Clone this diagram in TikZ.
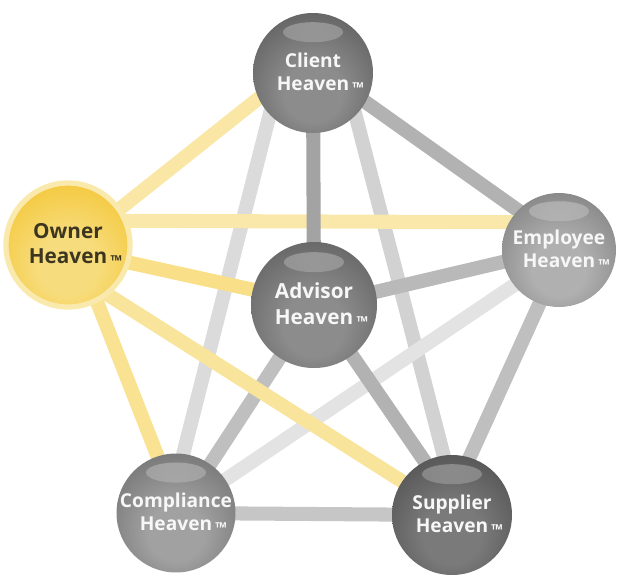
\documentclass[tikz,border=0pt]{standalone}
\usepackage{fontspec}
\setmainfont{Open Sans}
\usepackage{tikz}
\usetikzlibrary{calc,backgrounds}
\definecolor{heavengold}{HTML}{F1C012}
\definecolor{owntext}{HTML}{3C3620}
\colorlet{orbin}{gray}
\colorlet{orbout}{black}
\pgfdeclareradialshading[orbin,orbout]{orb}{\pgfpoint{0bp}{-10bp}}%
  {color(0bp)=(orbin); color(12bp)=(orbin); color(46bp)=(orbout); color(70bp)=(orbout)}
\newcommand{\hvtm}{\rlap{\,\raisebox{-0.25ex}{\fontsize{8.6}{8.6}\selectfont ™}}}

\begin{document}
\begin{tikzpicture}[
    orbnode/.style n args={3}{circle, minimum size=#1, inner sep=0pt, shade, shading=orb,
                   /utils/exec={\colorlet{orbin}{#2}\colorlet{orbout}{#3}},
                   text=white!94!gray, font=\bfseries\fontsize{10.9}{13.6}\selectfont, align=center,
                   path picture={\shade[top color=white, bottom color=orbout, fill opacity=0.3]
                     ($(path picture bounding box.center)!0.68!(path picture bounding box.north)$)
                     ellipse [x radius=0.6, y radius=0.2];}},
    ownnode/.style={circle, minimum size=2.48cm, inner sep=0pt, shade, shading=orb,
                   /utils/exec={\colorlet{orbin}{heavengold!55!white}\colorlet{orbout}{heavengold!92!orange}},
                   draw=heavengold!35, line width=3pt,
                   text=owntext, font=\bfseries\fontsize{11.8}{14.6}\selectfont, align=center},
    link/.style={line width=8pt, shorten <=-4pt, shorten >=-4pt},
    bigtext/.style={font=\bfseries\fontsize{11.8}{14.6}\selectfont}
]
\useasboundingbox (0,0) rectangle (12.52,-11.6);

\node[orbnode={2.40cm}{black!45}{black!72}] (cli) at (6.26,-1.46) {Client\\Heaven\hvtm};
\node[ownnode] (own) at (1.36,-4.90) {Owner\\Heaven\hvtm};
\node[orbnode={2.28cm}{black!31}{black!58}] (emp) at (11.18,-5.00) {Employee\\Heaven\hvtm};
\node[orbnode={2.52cm}{black!45}{black!70}, bigtext] (adv) at (6.28,-6.10) {Advisor\\Heaven\hvtm};
\node[orbnode={2.36cm}{black!37}{black!64}] (com) at (3.52,-10.26) {Compliance\\Heaven\hvtm};
\node[orbnode={2.40cm}{black!52}{black!76}] (sup) at (9.04,-10.30) {Supplier\\Heaven\hvtm};

\begin{scope}[on background layer]
% grey links
\draw[link, gray!60] (cli.-29) -- (emp.136);
\draw[link, gray!28] (cli.224) -- (com.83);
\draw[link, gray!35] (cli.-45) -- (sup.98);
\draw[link, gray!55] (emp.192) -- (adv.12);
\draw[link, gray!22] (emp.218) -- (com.34);
\draw[link, gray!50] (emp.250) -- (sup.73);
\draw[link, gray!50] (adv.237) -- (com.55);
\draw[link, gray!60] (adv.-53) -- (sup.117);
\draw[link, gray!45] (com) -- (sup);
% owner links
\draw[link, heavengold!38] (own.35) -- (cli.205);
\draw[link, heavengold!36] (own.22) -- (emp.151);
\draw[link, heavengold!50] (own.-16) -- (adv.166);
\draw[link, heavengold!46] (own.-63) -- (com.108);
\draw[link, heavengold!42] (own.-51) -- (sup.146);
\draw[link, gray!72] (cli) -- (adv);
\end{scope}
\end{tikzpicture}
\end{document}
